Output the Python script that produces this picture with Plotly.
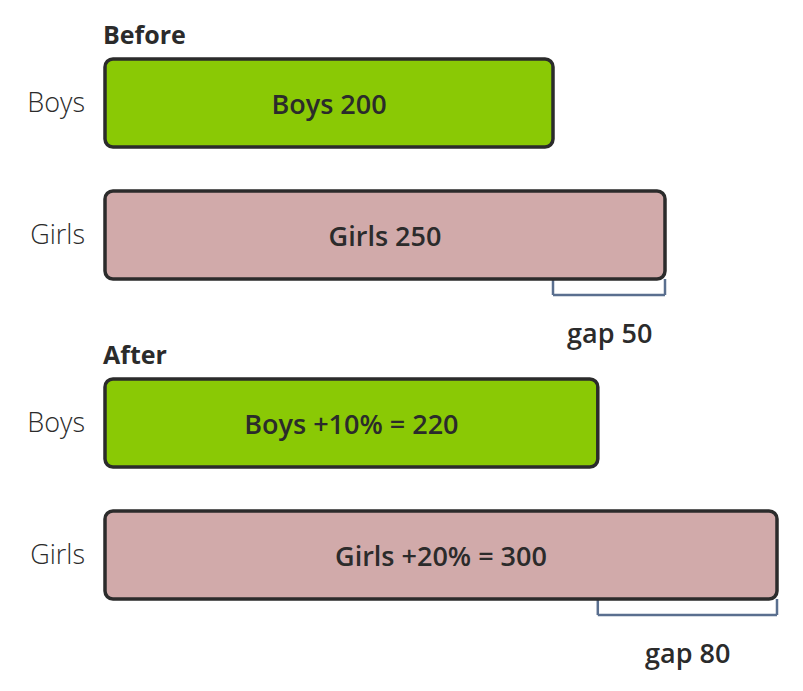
import plotly.graph_objects as go

# data
groups = ["Before", "After"]
categories = ["Boys", "Girls"]
before_values = [200, 250]
increase_pct = [10, 20]
after_values = [220, 300]
bar_colors = ["#8ac905", "#d1aaaa"]

FONT = "Open Sans"
TEXT_COLOR = "#2b2b2b"
BRACKET_COLOR = "#5a6f8f"

# the page body adds an 8px margin, so the figure is drawn 8px smaller/shifted
PAGE_PAD = 8
W, H = 803 - PAGE_PAD, 691 - PAGE_PAD
PX_PER_UNIT = 2.24
LEFT = 92
BAR_START = 105 - PAGE_PAD
x_min = -(BAR_START - LEFT) / PX_PER_UNIT
x_max = x_min + (W - LEFT) / PX_PER_UNIT
bar_width = 88 / 132             # bar thickness in category units
half_bar = bar_width / 2
bracket_drop = 0.4545            # bracket bottom below Girls centre


def to_domain(cat_pos):
    # category position -> fraction of the y domain (axis reversed, -0.5..1.5)
    return (1.5 - cat_pos) / 2


def px_domain(top, bottom):
    top, bottom = top - PAGE_PAD, bottom - PAGE_PAD
    return [(H - bottom) / H, (H - top) / H]


domains = [px_domain(37, 301), px_domain(357, 621)]

texts = [
    ["%s %d" % (c, v) for c, v in zip(categories, before_values)],
    ["%s +%d%% = %d" % (c, p, v) for c, p, v in zip(categories, increase_pct, after_values)],
]
values = [before_values, after_values]

fig = go.Figure()
layout_axes = {}
shapes = []
annotations = []

for i, group in enumerate(groups):
    suffix = "" if i == 0 else str(i + 1)
    xa, ya = "x" + suffix, "y" + suffix
    vals = values[i]

    # explicit base -> plotly rounds all four corners
    fig.add_trace(go.Bar(
        x=vals,
        base=[0] * len(vals),
        y=categories,
        width=bar_width,
        orientation="h",
        marker=dict(color=bar_colors, cornerradius=8,
                    line=dict(color=TEXT_COLOR, width=3.5)),
        text=texts[i],
        textposition="inside",
        insidetextanchor="middle",
        constraintext="none",
        textfont=dict(family=FONT, size=27, color=TEXT_COLOR, weight=600),
        xaxis=xa, yaxis=ya, hoverinfo="skip", showlegend=False,
    ))

    layout_axes["xaxis" + suffix] = dict(
        range=[x_min, x_max], visible=False, domain=[0, 1], anchor=ya, automargin=False,
    )
    layout_axes["yaxis" + suffix] = dict(
        domain=domains[i],
        range=[1.5, -0.5],
        anchor=xa,
        type="category",
        categoryarray=categories,
        showgrid=False,
        zeroline=False,
        showline=False,
        ticks="",
        automargin=False,
        ticklabelstandoff=14,
        tickfont=dict(family=FONT, size=27, color=TEXT_COLOR, weight=300),
    )

    # gap bracket under the Girls bar
    b, g = vals
    top, bottom = 1 + half_bar, 1 + bracket_drop
    line = dict(color=BRACKET_COLOR, width=2.5)
    for x0, y0, x1, y1 in [(b, top, b, bottom), (b, bottom, g, bottom), (g, bottom, g, top)]:
        shapes.append(dict(type="line", xref=xa, yref=ya, x0=x0, y0=y0, x1=x1, y1=y1,
                           line=line, layer="below"))

    annotations.append(dict(
        x=(b + g) / 2, y=to_domain(1.742), xref=xa, yref=ya + " domain",
        xanchor="center", yanchor="middle",
        text="gap %d" % (g - b), showarrow=False,
        font=dict(family=FONT, size=27, color=TEXT_COLOR, weight=600),
    ))
    annotations.append(dict(
        x=0, y=to_domain(-0.523), xref=xa + " domain", yref=ya + " domain",
        xanchor="left", yanchor="middle", xshift=1,
        text=group, showarrow=False,
        font=dict(family=FONT, size=25, color=TEXT_COLOR, weight=700),
    ))

fig.update_layout(
    width=W,
    height=H,
    margin=dict(l=LEFT, r=0, t=0, b=0),
    paper_bgcolor="white",
    plot_bgcolor="white",
    barmode="overlay",
    shapes=shapes,
    annotations=annotations,
    **layout_axes,
)

fig.write_html("out.html")
